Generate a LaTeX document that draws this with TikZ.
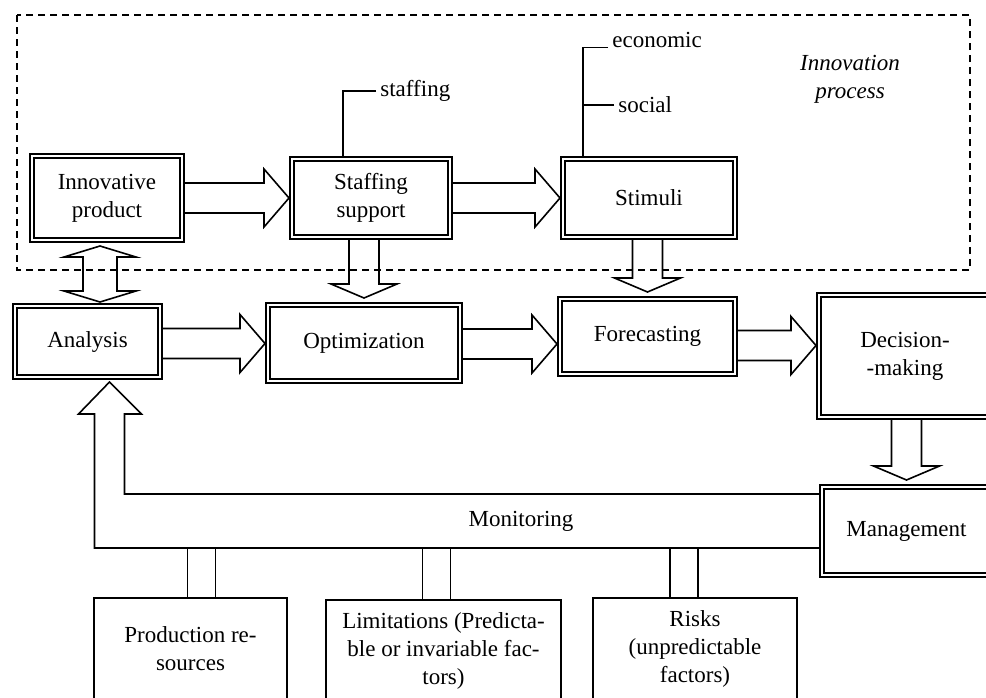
\documentclass[tikz,border=0pt]{standalone}
\usepackage{fontspec}
\setmainfont{Liberation Serif}
\usetikzlibrary{calc}

% hollow block arrows between two boxes
\newcommand{\blockright}[3][0]{%
  \coordinate (s) at ($(#2.east)+(3,#1)$);
  \coordinate (t) at ($(#2.east -| #3.west)+(-3,#1)$);
  \draw[barrow] ($(s)+(0,-15)$) -- ($(t)+(-25,-15)$) -- ($(t)+(-25,-29)$) -- (t)
    -- ($(t)+(-25,29)$) -- ($(t)+(-25,15)$) -- ($(s)+(0,15)$);}
\newcommand{\blockdown}[2]{%
  \coordinate (s) at (#1.south -| #2.north);
  \coordinate (t) at ($(#2.north)+(0,-7)$);
  \draw[barrow] ($(s)+(-15,3)$) -- ($(t)+(-15,-14)$) -- ($(t)+(-33,-14)$) -- (t)
    -- ($(t)+(33,-14)$) -- ($(t)+(15,-14)$) -- ($(s)+(15,3)$);}

\begin{document}
\begin{tikzpicture}[x=0.5pt,y=-0.5pt,font=\fontsize{11.5}{14}\selectfont,
    dbox/.style={draw,line width=1.3pt,double,double distance=0.8pt,outer sep=0pt,inner sep=2pt,align=center},
    sbox/.style={draw,line width=0.75pt,outer sep=0pt,anchor=north,align=center},
    lbl/.style={inner sep=2pt,anchor=west},
    barrow/.style={line width=0.8pt,line join=miter}]
    \useasboundingbox (0,0) rectangle (986,697);
    \clip (0,0) rectangle (986,697);
    % innovation process frame
    \draw[line width=0.8pt,dash pattern=on 3.5pt off 2.5pt] (17,15) rectangle (970,270);
    \node[font=\itshape\fontsize{11.5}{14}\selectfont,align=center] (inproc) at (850,79) {Innovation\\process};
    % boxes
    \node[dbox,minimum width=75pt,minimum height=42pt] (inno) at (107,198) {Innovative\\product};
    \node[dbox,minimum width=79pt,minimum height=39pt] (staff) at (371,198) {Staffing\\support};
    \node[dbox,minimum width=86pt,minimum height=39pt] (stim) at (649,198) {Stimuli};
    \node[dbox,minimum width=72.5pt,minimum height=35.5pt] (ana) at (87.5,341.5) {Analysis};
    \node[dbox,minimum width=96pt,minimum height=38pt] (opt) at (364,343) {Optimization};
    \node[dbox,minimum width=87.5pt,minimum height=37.5pt] (fore) at (647.5,336.5) {Forecasting};
    \node[dbox,minimum width=86pt,minimum height=61pt] (dec) at (905,356) {Decision-\\-making};
    \node[dbox,minimum width=84.5pt,minimum height=44pt] (mgmt) at (906.5,531) {Management};
    \node[sbox,minimum width=96.5pt,minimum height=51pt] (prod) at (190.5,598) {Production re-\\sources};
    \node[sbox,minimum width=117.5pt,minimum height=51pt] (lim) at (443.5,600) {Limitations (Predicta-\\ble or invariable fac-\\tors)};
    \node[sbox,minimum width=102pt,minimum height=51pt] (risk) at (695,598) {Risks\\(unpredictable\\factors)};
    % side labels
    \node[lbl] (stafftxt) at (376,91) {staffing};
    \node[lbl] (econ) at (608,40) {economic};
    \node[lbl] (soc) at (614,105) {social};
    \draw[barrow] (stafftxt.west) -| ($(staff.north)+(-28,-3)$);
    \coordinate (stimtop) at ($(stim.north)+(-66,-3)$);
    \draw[barrow] (econ.base west) -| (stimtop);
    \draw[barrow] (soc.west) -- (soc.west -| stimtop);
    % block arrows
    \blockright{inno}{staff}
    \blockright{staff}{stim}
    \blockright[2]{ana}{opt}
    \blockright[1]{opt}{fore}
    \blockright[9]{fore}{dec}
    \blockdown{staff}{opt}
    \blockdown{stim}{fore}
    \blockdown{dec}{mgmt}
    \coordinate (t1) at ($(inno.south)+(-7,6)$);
    \coordinate (t2) at ($(ana.north -| t1)+(0,-4)$);
    \draw[barrow] (t1) -- ($(t1)+(36,11)$) -- ($(t1)+(17,11)$) -- ($(t2)+(17,-11)$) -- ($(t2)+(36,-11)$) -- (t2)
      -- ($(t2)+(-36,-11)$) -- ($(t2)+(-17,-11)$) -- ($(t1)+(-17,11)$) -- ($(t1)+(-36,11)$) -- cycle;
    % monitoring loop
    \coordinate (mt) at ($(ana.south)+(22,5)$);
    \coordinate (mtop) at ($(mgmt.west)+(-3,-37)$);
    \coordinate (mbot) at ($(mgmt.west)+(-3,17)$);
    \draw[barrow] (mtop) -| ($(mt)+(15,32)$) -- ++(17,0) -- (mt) -- ++(-31,32) -- ++(16,0) |- (mbot);
    \node (montxt) at (521,521) {Monitoring};
    \foreach \b/\dx in {prod/11,lim/-7,risk/-11}{
      \draw[barrow] ($(\b.north)+({\dx-14},0)$) coordinate (p) -- (p |- mbot);
      \draw[barrow] ($(\b.north)+({\dx+14},0)$) coordinate (p) -- (p |- mbot);
    }
\end{tikzpicture}
\end{document}
